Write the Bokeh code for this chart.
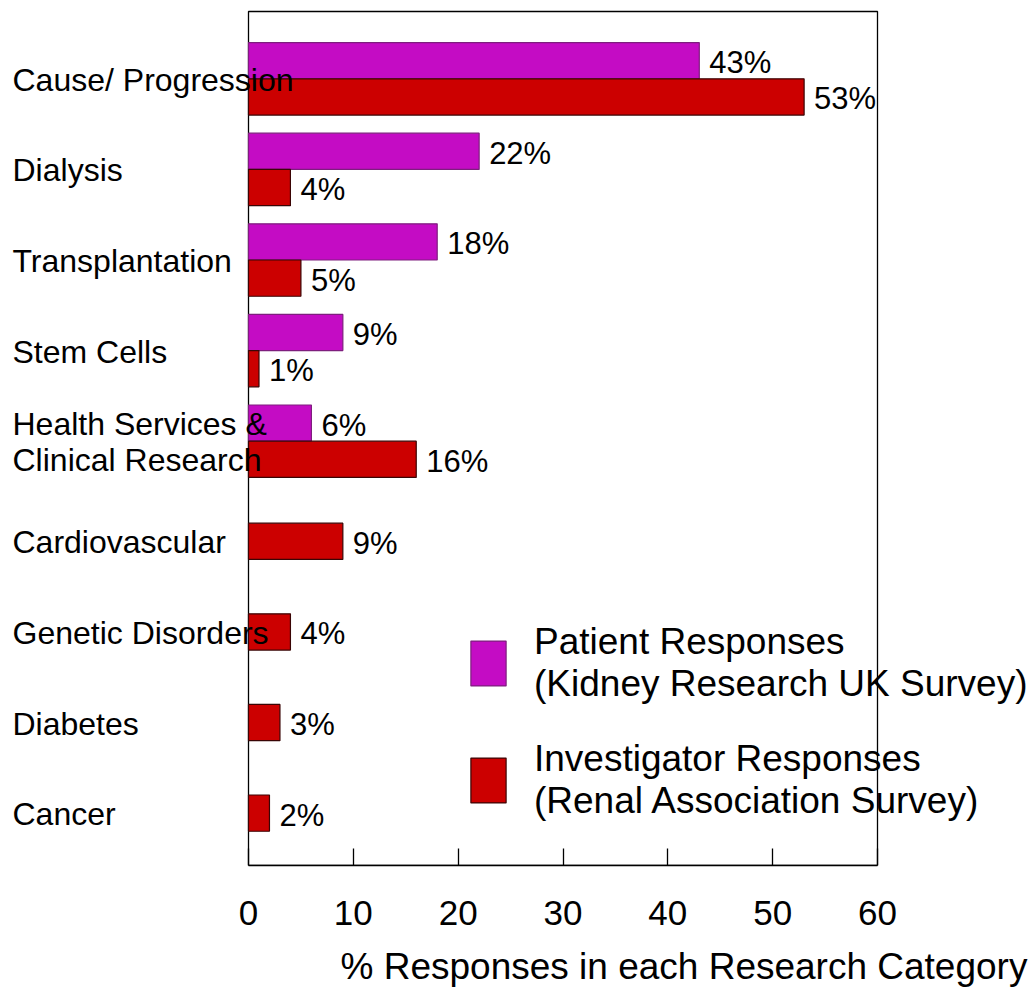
from bokeh.plotting import figure
from bokeh.models import (ColumnDataSource, Range1d, FixedTicker,
                          LabelSet, Legend, LegendItem, Title, BoxAnnotation)
from bokeh.core.properties import value
from bokeh.embed import file_html
from bokeh.resources import INLINE

# ---- data ----
categories = ["Cause/ Progression", "Dialysis", "Transplantation", "Stem Cells",
              "Health Services &\nClinical Research", "Cardiovascular",
              "Genetic Disorders", "Diabetes", "Cancer"]
patient = [43, 22, 18, 9, 6, None, None, None, None]
investigator = [53, 4, 5, 1, 16, 9, 4, 3, 2]
x_ticks = [0, 10, 20, 30, 40, 50, 60]
series_names = ["Patient Responses\n(Kidney Research UK Survey)",
                "Investigator Responses\n(Renal Association Survey)"]
x_title = "% Responses in each Research Category"

# ---- style / layout ----
FONT = "Liberation Sans"
PURPLE = "#C40CC4"
PURPLE_LINE = "#7E1E7E"
RED = "#CC0000"
RED_LINE = "#3A0505"
PAIR_OFF = 0.2
SINGLE_OFF = 0.105
BAR_H = 0.4
W, FRAME_H = 1035, 865
X0, X1 = x_ticks[0], x_ticks[-1]
PX_PER_X = 629 / (X1 - X0)
LEFT_PX = 248
Y_TOP, Y_BOTTOM = -0.743, 8.683
PX_PER_Y = 90.6

p_y, p_v, p_t = [], [], []
r_y, r_v, r_t = [], [], []
lab_y, lab_x = [], []
for i, (c, pv, iv) in enumerate(zip(categories, patient, investigator)):
    if pv is not None:
        p_y.append(i - PAIR_OFF)
        p_v.append(pv)
        p_t.append(f"{pv}%")
        ry = i + PAIR_OFF
        ly = i
    else:
        ry = i + SINGLE_OFF
        ly = ry
    r_y.append(ry)
    r_v.append(iv)
    r_t.append(f"{iv}%")
    lab_y.append(ly)
    lab_x.append(X0)

src_p = ColumnDataSource(dict(y=p_y, v=p_v, t=p_t))
src_r = ColumnDataSource(dict(y=r_y, v=r_v, t=r_t))
src_c = ColumnDataSource(dict(x=lab_x, y=lab_y, t=categories))

x_start = X0 - LEFT_PX / PX_PER_X
x_end = x_start + W / PX_PER_X
y_top = Y_TOP - 11 / PX_PER_Y

p = figure(frame_width=W, frame_height=FRAME_H,
           min_border_left=0, min_border_right=0, min_border_top=0,
           min_border_bottom=0,
           x_range=Range1d(x_start, x_end), y_range=Range1d(Y_BOTTOM, y_top),
           output_backend="svg", toolbar_location=None,
           y_axis_location=None)
p.xgrid.visible = False
p.ygrid.visible = False
p.outline_line_color = None
p.background_fill_color = "white"
p.border_fill_color = "white"

# plot-area box spanning the axis extents
p.add_layout(BoxAnnotation(left=X0, right=X1, top=Y_TOP, bottom=Y_BOTTOM,
                           fill_alpha=0, line_color="black", line_alpha=1.0,
                           line_width=1.3, level="underlay"))

ax = p.xaxis[0]
ax.ticker = FixedTicker(ticks=x_ticks)
ax.bounds = (X0, X1)
ax.major_tick_in = 17
ax.major_tick_out = 0
ax.minor_tick_line_color = None
ax.axis_line_color = "black"
ax.axis_line_width = 1.3
ax.major_tick_line_color = "black"
ax.major_tick_line_width = 1.3
ax.major_label_text_font = FONT
ax.major_label_text_font_size = "35px"
ax.major_label_text_color = "black"
ax.major_label_standoff = 35

p.add_layout(Title(text=x_title, align="left", offset=340, text_font=FONT,
                   text_font_size="37px", text_font_style="normal",
                   text_color="black", standoff=33), "below")

rp = p.hbar(y="y", right="v", left=X0, height=BAR_H, source=src_p,
            fill_color=PURPLE, line_color=PURPLE_LINE, line_width=1.2)
rr = p.hbar(y="y", right="v", left=X0, height=BAR_H, source=src_r,
            fill_color=RED, line_color=RED_LINE, line_width=1.2)

for src in (src_p, src_r):
    p.add_layout(LabelSet(x="v", y="y", text="t", source=src, x_offset=10,
                          y_offset=-2, text_font=value(FONT),
                          text_font_size=value("31px"),
                          text_baseline="middle", text_align="left",
                          text_color="black"))

p.add_layout(LabelSet(x="x", y="y", text="t", source=src_c, x_offset=12 - LEFT_PX,
                      y_offset=-1, text_font=value(FONT),
                      text_font_size=value("32px"),
                      text_baseline="middle", text_align="left",
                      text_color="black", text_line_height=1.0))

legend = Legend(items=[LegendItem(label=series_names[0], renderers=[rp]),
                       LegendItem(label=series_names[1], renderers=[rr])],
                location=(466, 43), glyph_width=44, glyph_height=56,
                label_standoff=24, spacing=33, padding=0, margin=0,
                border_line_color=None, background_fill_alpha=0,
                label_text_font=FONT, label_text_font_size="37px",
                label_text_line_height=1.3, label_text_color="black")
p.add_layout(legend)

open("out.html", "w").write(file_html(p, INLINE))
